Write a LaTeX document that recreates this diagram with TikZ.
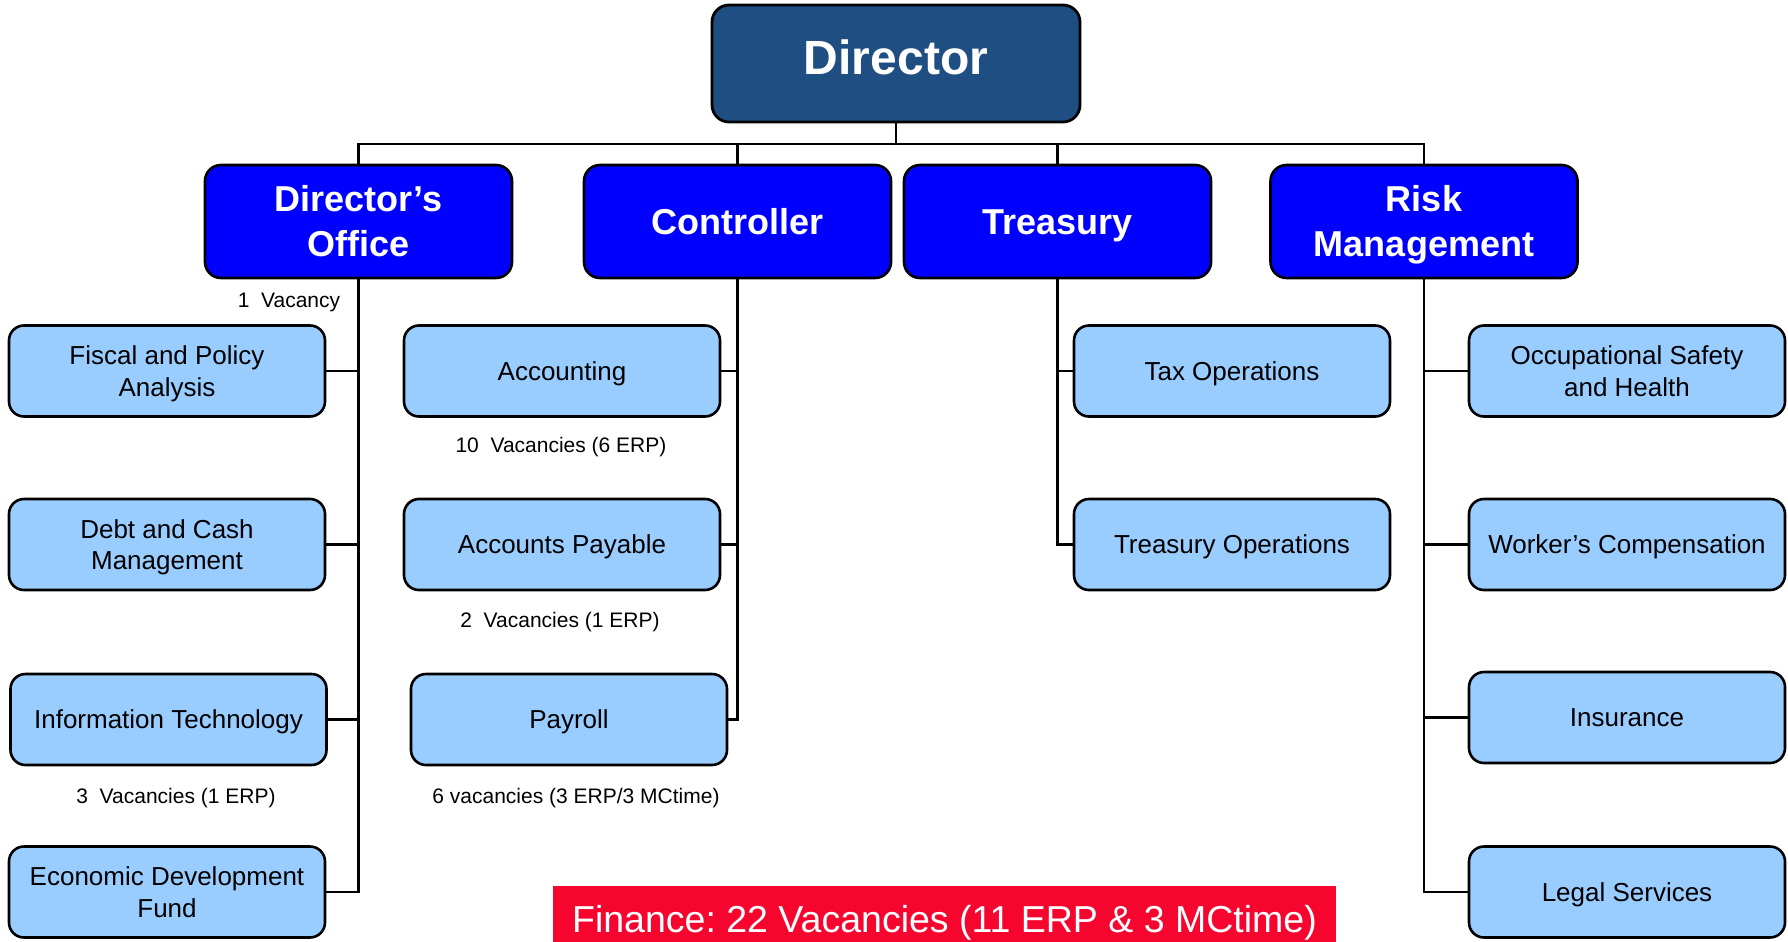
\documentclass[tikz,border=0pt]{standalone}
\usepackage{fontspec}
\setmainfont{Liberation Sans}
\frenchspacing
\definecolor{dirblue}{RGB}{31,79,130}
\definecolor{unitblue}{RGB}{0,0,255}
\definecolor{sublight}{RGB}{153,204,255}
\definecolor{bannerred}{RGB}{246,6,47}
\tikzset{
  topbox/.style={draw=black, line width=2.8pt, rounded corners=17pt, fill=dirblue,
    text=white, font=\fontsize{48}{52}\selectfont\bfseries,
    text height=34.4pt, text depth=0pt,
    minimum width=368pt, minimum height=117pt, inner sep=0pt},
  unitbox/.style={draw=black, line width=2.6pt, rounded corners=16pt, fill=unitblue,
    text=white, font=\fontsize{36}{45}\selectfont\bfseries, align=center,
    text height=25.8pt, text depth=0pt,
    minimum width=307pt, minimum height=113pt, inner sep=0pt},
  subbox/.style={draw=black, line width=2.6pt, rounded corners=15pt, fill=sublight,
    text=black, font=\fontsize{26}{31.5}\selectfont, align=center,
    text height=18.6pt, text depth=0pt,
    minimum width=316pt, minimum height=91pt, inner sep=0pt},
  unit2/.style={unitbox, text height=70.8pt},
  sub2/.style={subbox, text height=50.1pt},
  vacnote/.style={font=\fontsize{21}{24}\selectfont, inner sep=0pt},
  link/.style={draw=black, line width=2.4pt},
}
\begin{document}
\begin{tikzpicture}[x=1pt, y=-1pt]
\useasboundingbox (0,0) rectangle (1788,942);

% head of department
\node[topbox] (dir) at (896,63.5) {\raisebox{6pt}{Director}};

% divisions
\node[unit2]   (dof)   at (358.5,221.5) {Director’s\\Office};
\node[unitbox] (ctrl)  at (737.5,221.5) {Controller};
\node[unitbox] (treas) at (1057.5,221.5) {Treasury};
\node[unit2]   (risk)  at (1424,221.5) {Risk\\Management};

% Director's Office sections
\node[sub2]   (fisc) at (167,371)   {Fiscal and Policy\\Analysis};
\node[sub2]   (debt) at (167,544.5) {Debt and Cash\\Management};
\node[subbox] (it)   at (168.5,719.5) {Information Technology};
\node[sub2]   (edf)  at (167,892)   {Economic Development\\Fund};

% Controller sections
\node[subbox] (acc) at (562,371)   {Accounting};
\node[subbox] (ap)  at (562,544.5) {Accounts Payable};
\node[subbox] (pay) at (569,719.5) {Payroll};

% Treasury sections
\node[subbox] (tax)   at (1232,371)   {Tax Operations};
\node[subbox] (trops) at (1232,544.5) {Treasury Operations};

% Risk Management sections
\node[sub2]   (osh)   at (1627,371)   {Occupational Safety\\and Health};
\node[subbox] (wc)    at (1627,544.5) {Worker’s Compensation};
\node[subbox] (ins)   at (1627,717.5) {Insurance};
\node[subbox] (legal) at (1627,892)   {Legal Services};

% vacancy notes
\node[vacnote] (v1)  at (289,302) {1\ \ Vacancy};
\node[vacnote] (v10) at (561,447) {10\ \ Vacancies (6 ERP)};
\node[vacnote] (v2)  at (560,622) {2\ \ Vacancies (1 ERP)};
\node[vacnote] (v3)  at (176,798) {3\ \ Vacancies (1 ERP)};
\node[vacnote] (v6)  at (576,798) {6 vacancies (3 ERP/3 MCtime)};

% summary banner
\fill[bannerred] (553,886) rectangle (1336,942);
\node[text=white, font=\fontsize{37.5}{40}\selectfont, anchor=base, inner sep=0pt]
  (total) at (944.5,932) {Finance: 22 Vacancies (11 ERP \& 3 MCtime)};

% top-level connectors
\coordinate (bar) at (0,144);
\draw[link] (dir.south) -- (dir.south |- bar);
\draw[link] (dof.north) -- (dof.north |- bar) -- (risk.north |- bar) -- (risk.north);
\draw[link] (ctrl.north) -- (ctrl.north |- bar);
\draw[link] (treas.north) -- (treas.north |- bar);

% Director's Office branch
\draw[link] (dof.south) |- (edf.east);
\draw[link] (fisc.east) -- (fisc.east -| dof.south);
\draw[link] (debt.east) -- (debt.east -| dof.south);
\draw[link] (it.east) -- (it.east -| dof.south);

% Controller branch
\draw[link] (ctrl.south) |- (pay.east);
\draw[link] (acc.east) -- (acc.east -| ctrl.south);
\draw[link] (ap.east) -- (ap.east -| ctrl.south);

% Treasury branch
\draw[link] (treas.south) |- (trops.west);
\draw[link] (tax.west) -- (tax.west -| treas.south);

% Risk Management branch
\draw[link] (risk.south) |- (legal.west);
\draw[link] (osh.west) -- (osh.west -| risk.south);
\draw[link] (wc.west) -- (wc.west -| risk.south);
\draw[link] (ins.west) -- (ins.west -| risk.south);
\end{tikzpicture}
\end{document}
